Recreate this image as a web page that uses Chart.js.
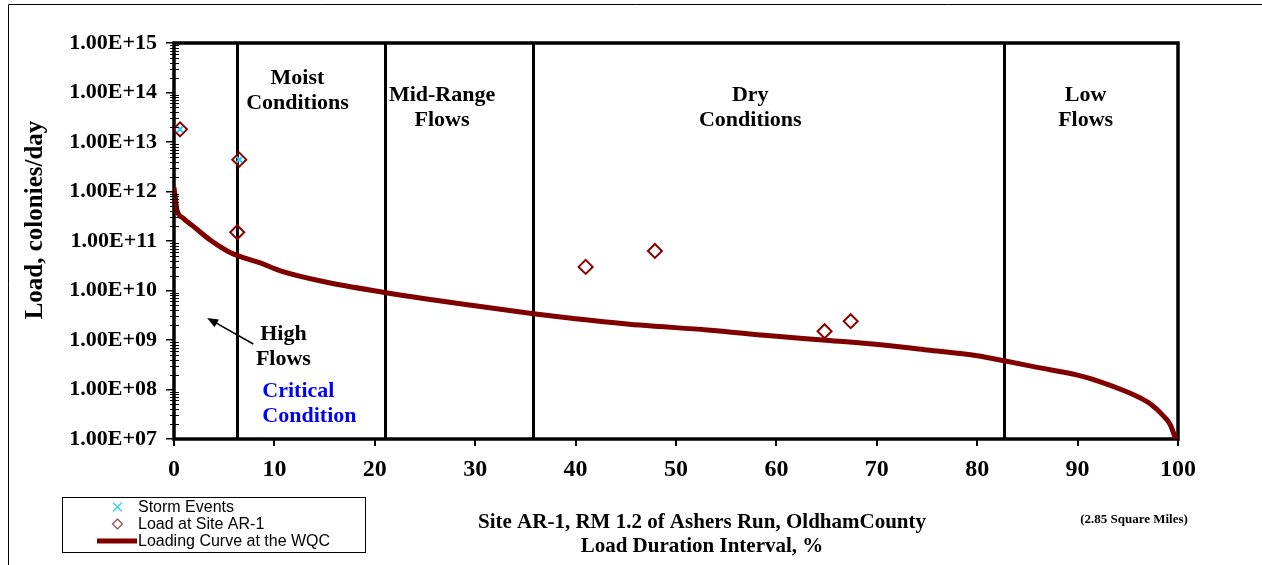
<!DOCTYPE html>
<html>
<head>
<meta charset="utf-8">
<style>
  body { margin: 0; background: #fff; }
  #wrap { width: 1262px; height: 565px; position: relative; }
</style>
</head>
<body>
<div id="wrap"><canvas id="ldcChart"></canvas></div>
<script src="https://cdn.jsdelivr.net/npm/chart.js"></script>
<script>
// load duration curve (percent of time exceeded, colonies/day)
const curvePct  = [0, 0.15, 0.3, 0.9, 1.9, 3.6, 5.3, 6.4, 8.6, 10.6, 15, 21, 25, 30, 35.8, 40, 46.4, 53.1, 59.7, 64.6, 69.6, 75, 80, 82.7, 86, 90, 92.2, 94.9, 96.2, 97.2, 98.5, 99.2, 99.7, 100];
const curveLoad = [1.2e12, 7e11, 4.2e11, 2.9e11, 2.0e11, 1.05e11, 6.3e10, 5.0e10, 3.6e10, 2.5e10, 1.5e10, 9.1e9, 6.8e9, 4.9e9, 3.4e9, 2.7e9, 2.0e9, 1.6e9, 1.2e9, 1.0e9, 8.3e8, 6.3e8, 4.8e8, 3.8e8, 2.8e8, 1.95e8, 1.45e8, 9.0e7, 6.8e7, 5.2e7, 3.0e7, 2.0e7, 1.1e7, 8e6];

// observed loads at site AR-1
const sitePct  = [0.6, 6.5, 6.3, 41.0, 47.9, 64.8, 67.4];
const siteLoad = [1.8e13, 4.4e12, 1.5e11, 3.0e10, 6.3e10, 1.5e9, 2.4e9];

// storm events
const stormPct  = [0.6, 6.5];
const stormLoad = [1.8e13, 4.4e12];

// flow zone boundaries (%)
const zoneBreaks = [6.3, 21, 35.8, 82.7];

const xTicks = [0, 10, 20, 30, 40, 50, 60, 70, 80, 90, 100];
const yTicks = [1e7, 1e8, 1e9, 1e10, 1e11, 1e12, 1e13, 1e14, 1e15];

const legendLabels = ['Storm Events', 'Load at Site AR-1', 'Loading Curve at the WQC'];

const SERIF = '"Liberation Serif", "Times New Roman", serif';
const SANS = '"Liberation Sans", Arial, sans-serif';

function pts(xs, ys) {
    return xs.map((x, i) => ({ x: x, y: ys[i] }));
}

const decor = {
    id: 'decor',
    beforeDraw(chart) {
        const ctx = chart.ctx;
        ctx.save();
        ctx.fillStyle = '#fff';
        ctx.fillRect(0, 0, chart.width, chart.height);
        // outer frame
        ctx.strokeStyle = '#000';
        ctx.lineWidth = 1;
        ctx.beginPath();
        ctx.moveTo(8.5, chart.height);
        ctx.lineTo(8.5, 4.5);
        ctx.lineTo(chart.width, 4.5);
        ctx.stroke();
        ctx.restore();
    },
    beforeDatasetsDraw(chart) {
        const ctx = chart.ctx;
        const a = chart.chartArea;
        const xs = chart.scales.x;
        ctx.save();
        ctx.strokeStyle = '#000';
        ctx.lineWidth = 3;
        zoneBreaks.forEach(v => {
            const px = Math.round(xs.getPixelForValue(v)) + 0.5;
            ctx.beginPath();
            ctx.moveTo(px, a.top);
            ctx.lineTo(px, a.bottom);
            ctx.stroke();
        });
        // plot border
        ctx.lineWidth = 3.5;
        ctx.strokeRect(a.left, a.top, a.right - a.left, a.bottom - a.top);
        ctx.restore();
    },
    afterDraw(chart) {
        const ctx = chart.ctx;
        const a = chart.chartArea;
        const xs = chart.scales.x;
        const ys = chart.scales.y;
        ctx.save();

        // minor log ticks on y axis
        ctx.strokeStyle = '#000';
        ctx.lineWidth = 1;
        for (let e = 7; e < 15; e++) {
            for (let j = 2; j <= 9; j++) {
                const py = Math.round(ys.getPixelForValue(j * Math.pow(10, e))) + 0.5;
                ctx.beginPath();
                ctx.moveTo(a.left - 4, py);
                ctx.lineTo(a.left + 5, py);
                ctx.stroke();
            }
        }

        // zone labels
        ctx.fillStyle = '#000';
        ctx.font = 'bold 22px ' + SERIF;
        ctx.textAlign = 'center';
        ctx.textBaseline = 'middle';
        const zoneText = [
            [12.3, 35, 'Moist'], [12.3, 60, 'Conditions'],
            [26.7, 52, 'Mid-Range'], [26.7, 77, 'Flows'],
            [57.4, 52, 'Dry'], [57.4, 77, 'Conditions'],
            [90.8, 52, 'Low'], [90.8, 77, 'Flows'],
            [10.9, 291, 'High'], [10.9, 316, 'Flows']
        ];
        zoneText.forEach(t => ctx.fillText(t[2], xs.getPixelForValue(t[0]), a.top + t[1]));

        ctx.fillStyle = '#0000FF';
        ctx.textAlign = 'left';
        ctx.fillText('Critical', xs.getPixelForValue(8.8), a.top + 348);
        ctx.fillText('Condition', xs.getPixelForValue(8.8), a.top + 373);

        // arrow pointing to high flow zone
        const ax0 = xs.getPixelForValue(7.9), ay0 = a.top + 301;
        const ax1 = xs.getPixelForValue(3.3), ay1 = a.top + 275;
        const ang = Math.atan2(ay1 - ay0, ax1 - ax0);
        ctx.strokeStyle = '#000';
        ctx.fillStyle = '#000';
        ctx.lineWidth = 1.5;
        ctx.beginPath();
        ctx.moveTo(ax0, ay0);
        ctx.lineTo(ax1 - 6 * Math.cos(ang), ay1 - 6 * Math.sin(ang));
        ctx.stroke();
        ctx.beginPath();
        ctx.moveTo(ax1, ay1);
        ctx.lineTo(ax1 - 11 * Math.cos(ang) + 4.5 * Math.sin(ang), ay1 - 11 * Math.sin(ang) - 4.5 * Math.cos(ang));
        ctx.lineTo(ax1 - 11 * Math.cos(ang) - 4.5 * Math.sin(ang), ay1 - 11 * Math.sin(ang) + 4.5 * Math.cos(ang));
        ctx.closePath();
        ctx.fill();

        // y axis title
        ctx.save();
        ctx.translate(36, 220);
        ctx.rotate(-Math.PI / 2);
        ctx.fillStyle = '#000';
        ctx.textAlign = 'center';
        ctx.textBaseline = 'middle';
        ctx.font = 'bold 25px ' + SERIF;
        ctx.fillText('Load, colonies/day', 0, 0);
        ctx.restore();

        // x axis title
        ctx.fillStyle = '#000';
        ctx.textAlign = 'center';
        ctx.textBaseline = 'middle';
        ctx.font = 'bold 21px ' + SERIF;
        ctx.fillText('Site AR-1, RM 1.2 of Ashers Run, OldhamCounty', 702, 523);
        ctx.fillText('Load Duration Interval, %', 702, 547);
        ctx.font = 'bold 13px ' + SERIF;
        ctx.fillText('(2.85 Square Miles)', 1134, 520);

        // legend box
        ctx.lineWidth = 1;
        ctx.strokeRect(62.5, 497.5, 303, 55);
        ctx.font = '16px ' + SANS;
        ctx.textAlign = 'left';
        const rows = [507, 524, 541];
        // storm events cross
        ctx.strokeStyle = '#33CCFF';
        ctx.lineWidth = 1.2;
        ctx.beginPath();
        ctx.moveTo(113, rows[0] - 4.5); ctx.lineTo(122, rows[0] + 4.5);
        ctx.moveTo(122, rows[0] - 4.5); ctx.lineTo(113, rows[0] + 4.5);
        ctx.stroke();
        // diamond
        ctx.strokeStyle = '#A04040';
        ctx.beginPath();
        ctx.moveTo(117.5, rows[1] - 5); ctx.lineTo(122.5, rows[1]);
        ctx.lineTo(117.5, rows[1] + 5); ctx.lineTo(112.5, rows[1]);
        ctx.closePath();
        ctx.stroke();
        // curve line
        ctx.strokeStyle = '#800000';
        ctx.lineWidth = 5;
        ctx.beginPath();
        ctx.moveTo(97, rows[2]); ctx.lineTo(137, rows[2]);
        ctx.stroke();
        ctx.fillStyle = '#000';
        legendLabels.forEach((t, i) => ctx.fillText(t, 138, rows[i] + 1));

        ctx.restore();
    }
};

const ctx = document.getElementById('ldcChart').getContext('2d');
const ldcChart = new Chart(ctx, {
    type: 'scatter',
    data: {
        datasets: [{
            label: legendLabels[2],
            data: pts(curvePct, curveLoad),
            showLine: true,
            borderColor: '#800000',
            borderWidth: 5,
            pointRadius: 0,
            cubicInterpolationMode: 'monotone',
            order: 3
        }, {
            label: legendLabels[1],
            data: pts(sitePct, siteLoad),
            pointStyle: 'rectRot',
            pointRadius: 7,
            pointBorderWidth: 2,
            pointBorderColor: '#8B0000',
            pointBackgroundColor: 'rgba(255,255,255,0)',
            order: 2
        }, {
            label: legendLabels[0],
            data: pts(stormPct, stormLoad),
            pointStyle: 'crossRot',
            pointRadius: 4,
            pointBorderWidth: 2,
            pointBorderColor: '#33CCFF',
            order: 1
        }]
    },
    options: {
        responsive: true,
        maintainAspectRatio: false,
        animation: false,
        layout: { padding: { left: 0, top: 43, right: 84, bottom: 0 } },
        plugins: {
            legend: { display: false },
            tooltip: { enabled: false }
        },
        scales: {
            x: {
                type: 'linear',
                min: 0,
                max: 100,
                afterBuildTicks: scale => { scale.ticks = xTicks.map(v => ({ value: v })); },
                afterFit: scale => { scale.height = 126; },
                ticks: {
                    color: '#000',
                    padding: 9,
                    font: { family: SERIF, size: 24, weight: 'bold' }
                },
                grid: { drawOnChartArea: false, tickLength: 7, color: '#000', lineWidth: 2 },
                border: { display: false }
            },
            y: {
                type: 'logarithmic',
                min: 1e7,
                max: 1e15,
                afterBuildTicks: scale => { scale.ticks = yTicks.map(v => ({ value: v })); },
                afterFit: scale => { scale.width = 174; },
                ticks: {
                    color: '#000',
                    padding: 9,
                    font: { family: SERIF, size: 22, weight: 'bold' },
                    callback: v => {
                        const e = Math.round(Math.log10(v));
                        return '1.00E+' + (e < 10 ? '0' + e : e);
                    }
                },
                grid: { drawOnChartArea: false, tickLength: 8, color: '#000', lineWidth: 1.5 },
                border: { display: false }
            }
        }
    },
    plugins: [decor]
});
</script>
</body>
</html>
